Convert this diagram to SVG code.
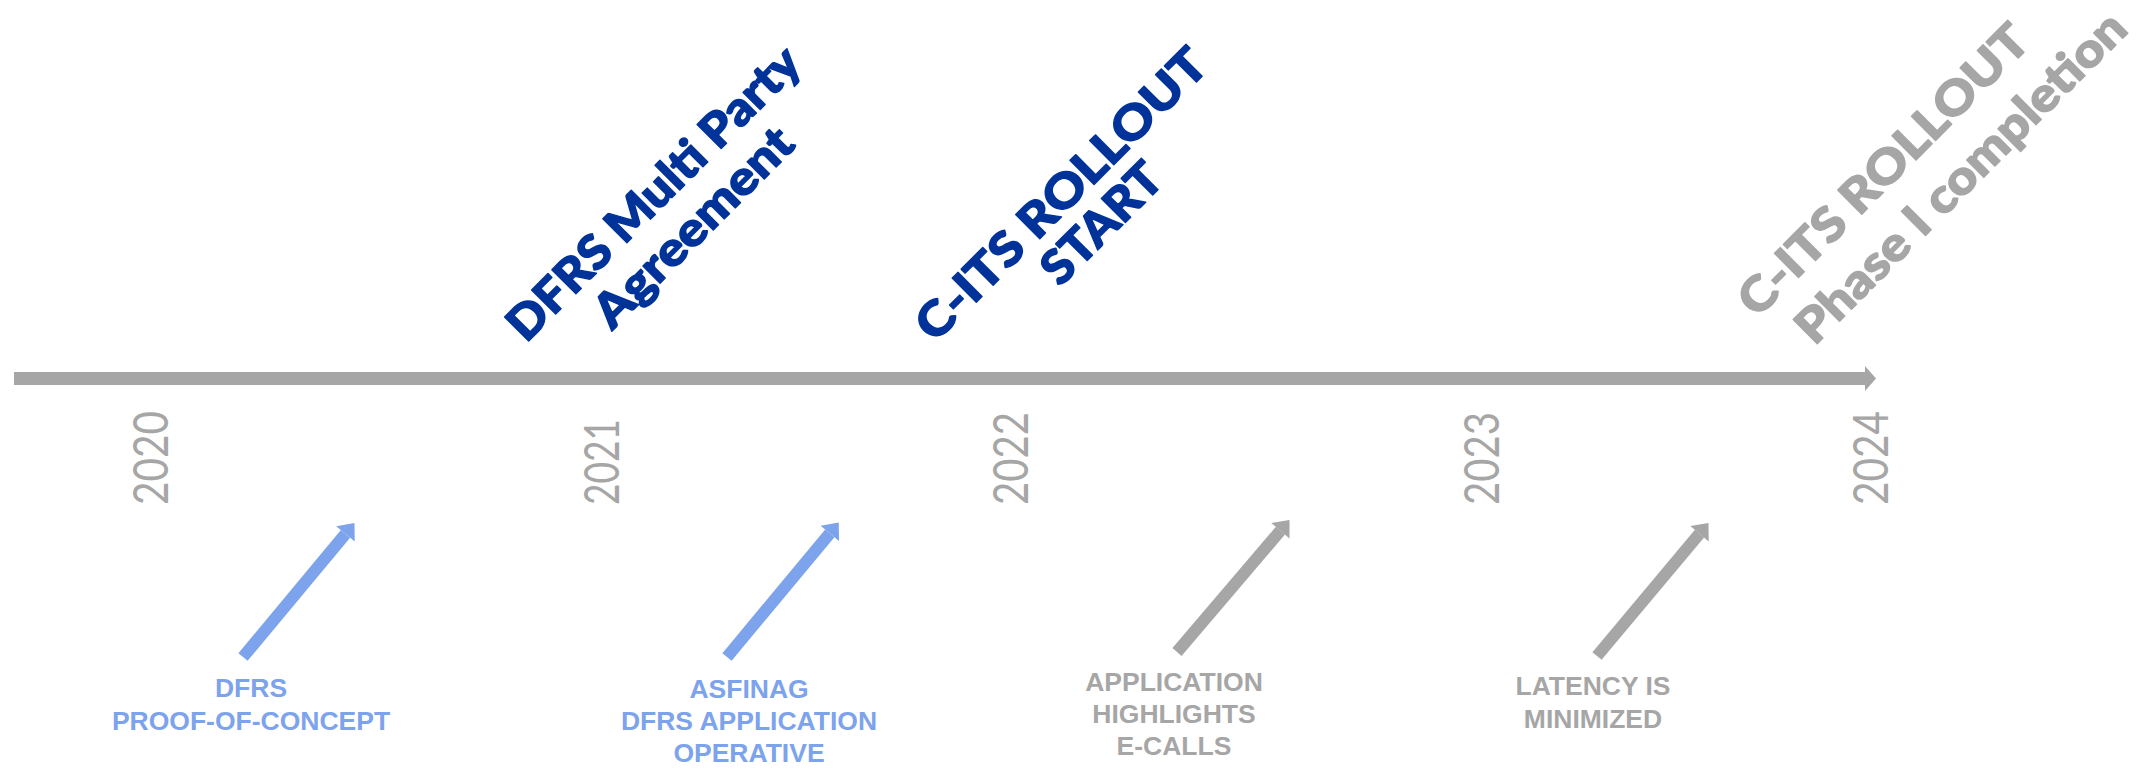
<svg xmlns="http://www.w3.org/2000/svg" width="2138" height="769" viewBox="0 0 2138 769">
<style>
.year{font-family:Lato,"Open Sans","Liberation Sans",sans-serif;font-size:49px;fill:#A6A6A6}
.ms{font-family:Lato,"Liberation Sans",sans-serif;font-weight:900;font-size:47px;text-anchor:middle;stroke-width:1.4;stroke-linejoin:round}
.navy{fill:#003399;stroke:#003399}
.grey{fill:#A6A6A6}
.mgrey{fill:#A6A6A6;stroke:#A6A6A6}
.lbl{font-family:"Liberation Sans",Arial,sans-serif;font-weight:bold;font-size:26.5px;text-anchor:middle}
.lblue{fill:#7DA3EC}
.arrB{stroke:#7DA3EC;stroke-width:12;fill:none;marker-end:url(#hB)}
.arrG{stroke:#A6A6A6;stroke-width:12;fill:none;marker-end:url(#hG)}
</style>
<defs>
<marker id="hB" markerUnits="userSpaceOnUse" markerWidth="16" markerHeight="26" refX="0" refY="12" orient="auto" viewBox="0 0 16 24" overflow="visible"><path d="M0,0 L14,12 L0,24 Z" fill="#7DA3EC"/></marker>
<marker id="hG" markerUnits="userSpaceOnUse" markerWidth="16" markerHeight="26" refX="0" refY="12" orient="auto" viewBox="0 0 16 24" overflow="visible"><path d="M0,0 L14,12 L0,24 Z" fill="#A6A6A6"/></marker>
</defs>
<rect width="2138" height="769" fill="#FFFFFF"/>

<g id="timeline">
<rect x="14" y="372" width="1852" height="13" fill="#A6A6A6"/>
<path d="M1865,366 L1876,378.5 L1865,391 Z" fill="#A6A6A6"/>
</g>

<g id="years">
<text class="year" transform="translate(168,505) rotate(-90)" textLength="94" lengthAdjust="spacingAndGlyphs">2020</text>
<text class="year" transform="translate(619,505) rotate(-90)" textLength="86" lengthAdjust="spacingAndGlyphs">2021</text>
<text class="year" transform="translate(1028,505) rotate(-90)" textLength="93" lengthAdjust="spacingAndGlyphs">2022</text>
<text class="year" transform="translate(1499,505) rotate(-90)" textLength="93" lengthAdjust="spacingAndGlyphs">2023</text>
<text class="year" transform="translate(1888,505) rotate(-90)" textLength="94" lengthAdjust="spacingAndGlyphs">2024</text>
</g>

<g id="milestone-dfrs-agreement">
<text class="ms navy" transform="translate(665,204.7) rotate(-45)" textLength="393" lengthAdjust="spacingAndGlyphs">DFRS Multi Party</text>
<text class="ms navy" transform="translate(704.6,238.6) rotate(-45)" textLength="261" lengthAdjust="spacingAndGlyphs">Agreement</text>
</g>

<g id="milestone-cits-start">
<text class="ms navy" transform="translate(1072.7,205.8) rotate(-45)" textLength="390" lengthAdjust="spacingAndGlyphs">C-ITS ROLLOUT</text>
<text class="ms navy" transform="translate(1113,234.8) rotate(-45)" textLength="150" lengthAdjust="spacingAndGlyphs">START</text>
</g>

<g id="milestone-cits-phase1">
<text class="ms mgrey" transform="translate(1894.7,181.4) rotate(-45)" textLength="389" lengthAdjust="spacingAndGlyphs">C-ITS ROLLOUT</text>
<text class="ms mgrey" transform="translate(1972.1,188.8) rotate(-45)" textLength="446" lengthAdjust="spacingAndGlyphs">Phase I completion</text>
</g>

<g id="connectors">
<line class="arrB" x1="243" y1="657" x2="345.5" y2="533.8"/>
<line class="arrB" x1="727" y1="657" x2="829.8" y2="533.3"/>
<line class="arrG" x1="1177" y1="652" x2="1280.4" y2="530.7"/>
<line class="arrG" x1="1597" y1="656" x2="1699.5" y2="533.7"/>
</g>

<g id="event-dfrs-poc">
<text class="lbl lblue"><tspan x="251" y="697">DFRS</tspan><tspan x="251" y="729.5">PROOF-OF-CONCEPT</tspan></text>
</g>

<g id="event-asfinag">
<text class="lbl lblue"><tspan x="749" y="698">ASFINAG</tspan><tspan x="749" y="730">DFRS APPLICATION</tspan><tspan x="749" y="762">OPERATIVE</tspan></text>
</g>

<g id="event-ecalls">
<text class="lbl grey"><tspan x="1174" y="690.5">APPLICATION</tspan><tspan x="1174" y="722.7">HIGHLIGHTS</tspan><tspan x="1174" y="755">E-CALLS</tspan></text>
</g>

<g id="event-latency">
<text class="lbl grey"><tspan x="1593" y="694.5">LATENCY IS</tspan><tspan x="1593" y="727.7">MINIMIZED</tspan></text>
</g>
</svg>
